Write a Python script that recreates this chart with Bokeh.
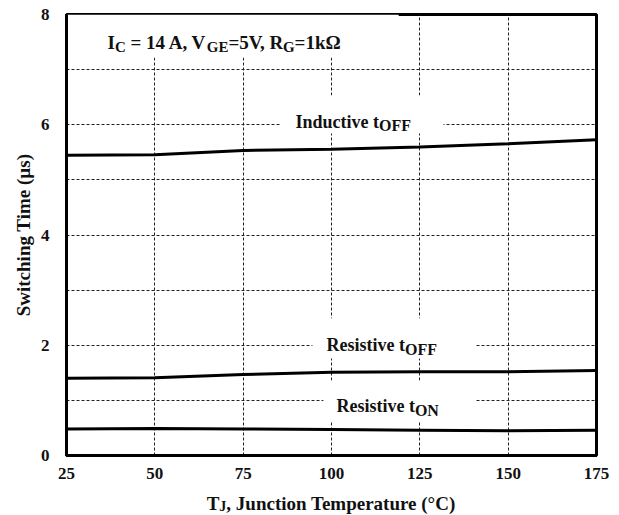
from bokeh.plotting import figure
from bokeh.layouts import column
from bokeh.models import Range1d, FixedTicker, Label
from bokeh.core.properties import value
from bokeh.embed import file_html
from bokeh.resources import INLINE

# Junction temperature (°C) and switching times (µs)
temperature = [25, 50, 75, 100, 125, 150, 175]
inductive_toff = [5.445, 5.455, 5.535, 5.555, 5.595, 5.655, 5.73]
resistive_toff = [1.40, 1.41, 1.47, 1.51, 1.52, 1.52, 1.54]
resistive_ton = [0.48, 0.49, 0.48, 0.47, 0.46, 0.45, 0.46]

x_ticks = [25, 50, 75, 100, 125, 150, 175]
y_ticks = [0, 2, 4, 6, 8]
y_grid = [1, 2, 3, 4, 5, 6, 7]

FONT = "Liberation Serif"
WIDTH = 619
PLOT_H, TITLE_H = 488, 27

# Advance widths (em/1000) of the bold serif face, used to chain sub/normal runs
ADV = {
    " ": 250, ",": 250, "=": 570, "(": 333, ")": 333, "°": 400, "Ω": 768, "µ": 556,
    "0": 500, "1": 500, "2": 500, "3": 500, "4": 500, "5": 500, "6": 500, "7": 500,
    "8": 500, "9": 500,
    "A": 722, "C": 722, "E": 667, "F": 611, "G": 778, "I": 389, "J": 500, "N": 722,
    "O": 778, "R": 722, "T": 667, "V": 722,
    "a": 500, "c": 444, "d": 556, "e": 444, "g": 500, "h": 556, "i": 278, "k": 556,
    "m": 833, "n": 556, "o": 500, "p": 556, "r": 444, "s": 389, "t": 333, "u": 556,
    "v": 500, "w": 722,
}
KERN = {("V", ","): -145, ("T", "e"): -70}


def run_width(text, size):
    total = sum(ADV.get(ch, 500) for ch in text)
    total += sum(KERN.get(pair, 0) for pair in zip(text, text[1:]))
    return total / 1000.0 * size


def rich_label(p, runs, x, y, size=18, sub_size=15, drop=4):
    """Place a line of normal and subscript runs at a data baseline."""
    off = 0.0
    for text, sub in runs:
        fs = sub_size if sub else size
        body = text.lstrip(" ")
        lead = run_width(text[: len(text) - len(body)], fs)
        p.add_layout(Label(
            x=x, y=y, x_offset=off + lead, y_offset=-drop if sub else 0,
            text=body, text_font=FONT, text_font_style="bold",
            text_font_size=f"{fs}px",
            text_color="#111111", text_align="left", text_baseline="alphabetic",
        ))
        off += run_width(text, fs)


p = figure(
    width=WIDTH, height=PLOT_H, output_backend="svg", toolbar_location=None,
    x_range=Range1d(25, 175), y_range=Range1d(0, 8),
    min_border_left=66, min_border_right=23, min_border_top=14, min_border_bottom=33,
)
p.background_fill_color = "white"
p.border_fill_color = "white"
p.outline_line_color = "black"
p.outline_line_width = 3

# axes
p.xaxis.ticker = FixedTicker(ticks=x_ticks)
p.yaxis.ticker = FixedTicker(ticks=y_ticks)
for ax in (p.xaxis[0], p.yaxis[0]):
    ax.axis_line_color = "black"
    ax.axis_line_width = 3
    ax.major_tick_in = 0
    ax.major_tick_out = 0
    ax.minor_tick_in = 0
    ax.minor_tick_out = 0
    ax.major_label_text_font = FONT
    ax.major_label_text_font_style = "bold"
    ax.major_label_text_font_size = "17px"
    ax.major_label_text_color = "#111111"
p.xaxis.major_label_standoff = 12
p.yaxis.major_label_standoff = 17
p.yaxis.axis_label = "Switching Time (µs)"
p.yaxis.axis_label_text_font = FONT
p.yaxis.axis_label_text_font_style = "bold"
p.yaxis.axis_label_text_font_size = "19px"
p.yaxis.axis_label_text_color = "#111111"
p.yaxis.axis_label_standoff = 4

# dashed grid
p.xgrid.ticker = FixedTicker(ticks=x_ticks[1:-1])
p.ygrid.ticker = FixedTicker(ticks=y_grid)
for g in (p.xgrid[0], p.ygrid[0]):
    g.grid_line_color = "#222222"
    g.grid_line_width = 1
    g.grid_line_dash = "3 2"

# clear areas behind the annotations
clear_left = [25, 85.6, 94.6, 97.7]
clear_right = [119, 131.7, 140.8, 140.8]
clear_bottom = [7.22, 5.84, 1.76, 0.62]
clear_top = [8, 6.53, 2.49, 1.36]
p.quad(left=clear_left, right=clear_right, bottom=clear_bottom, top=clear_top,
       fill_color="white", line_color=None)

# curves
for series in (inductive_toff, resistive_toff, resistive_ton):
    p.line(temperature, series, line_color="black", line_width=3)

# annotations
rich_label(p, [("I", False), ("C", True), (" = 14 A, V", False), ("GE", True),
               ("=5V, R", False), ("G", True), ("=1kΩ", False)], 36.6, 7.49,
           size=19, sub_size=15)
rich_label(p, [("Inductive t", False), ("OFF", True)], 89.8, 6.05, sub_size=16)
rich_label(p, [("Resistive t", False), ("OFF", True)], 98.6, 2.0, sub_size=16)
rich_label(p, [("Resistive t", False), ("ON", True)], 101.4, 0.89, sub_size=16)

# x-axis title strip, sharing the temperature range so it centres under the frame
strip = figure(
    width=WIDTH, height=TITLE_H, output_backend="svg", toolbar_location=None,
    x_range=p.x_range, y_range=Range1d(0, TITLE_H), title_location=None,
    x_axis_type=None, y_axis_type=None,
    min_border_left=66, min_border_right=23, min_border_top=0, min_border_bottom=0,
)
strip.outline_line_color = None
strip.grid.visible = False
strip.background_fill_color = "white"
strip.border_fill_color = "white"

xtitle_runs = [("T", False), ("J", True), (", Junction Temperature (°C)", False)]
main_fs, sub_fs = 19, 14
baseline = 12
sizes = [sub_fs if s else main_fs for _, s in xtitle_runs]
off = -sum(run_width(t, f) for (t, _), f in zip(xtitle_runs, sizes)) / 2
for (text, sub), fs in zip(xtitle_runs, sizes):
    body = text.lstrip(" ")
    lead = run_width(text[: len(text) - len(body)], fs)
    strip.text(x=[100], y=[baseline - (3 if sub else 0)], text=[body], x_offset=off + lead,
               text_font=value(FONT), text_font_style="bold",
               text_font_size=value(f"{fs}px"), text_color="#111111",
               text_align="left", text_baseline="alphabetic")
    off += run_width(text, fs)

layout = column(p, strip, spacing=0)
open("out.html", "w").write(file_html(layout, INLINE))
